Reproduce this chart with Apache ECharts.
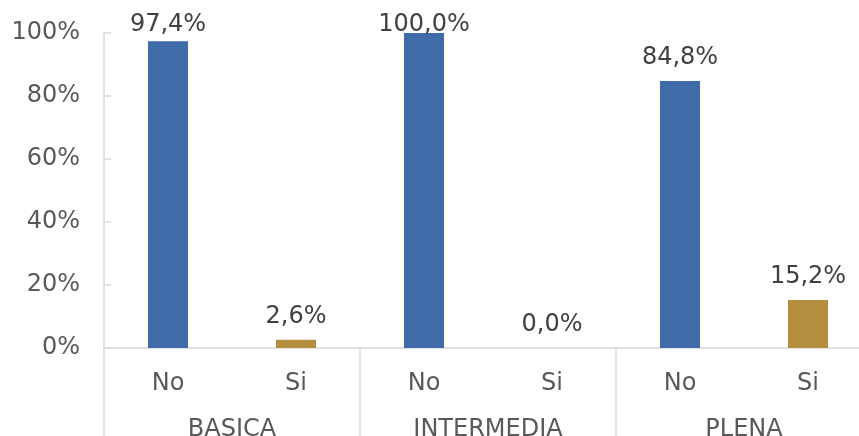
<!DOCTYPE html>
<html>
<head>
<meta charset="utf-8">
<script src="https://cdn.jsdelivr.net/npm/echarts@6/dist/echarts.min.js"></script>
<style>html,body{margin:0;padding:0;background:#fff;}#c{width:859px;height:436px;}</style>
</head>
<body>
<div id="c"></div>
<script>
var groups = ['BASICA', 'INTERMEDIA', 'PLENA'];
var subCats = ['No', 'Si'];
var noVals = [97.4, 100.0, 84.8];
var siVals = [2.6, 0.0, 15.2];
var yTicks = [0, 20, 40, 60, 80, 100];

var colors = { No: '#3F6BA8', Si: '#B58E40' };
var cats = [], vals = [];
for (var i = 0; i < groups.length; i++) {
  cats.push(subCats[0]); vals.push({ value: noVals[i], itemStyle: { color: colors.No } });
  cats.push(subCats[1]); vals.push({ value: siVals[i], itemStyle: { color: colors.Si } });
}
var font = 'DejaVu Sans, Verdana, sans-serif';
var fs = 24;
var chart = echarts.init(document.getElementById('c'));
var option = {
  animation: false,
  grid: { left: 104, top: 33, width: 768, height: 315, containLabel: false, outerBoundsMode: 'none' },
  xAxis: [
    {
      type: 'category', data: cats, position: 'bottom',
      axisLine: { show: true, lineStyle: { color: '#d9d9d9', width: 1.5 } },
      axisTick: { show: false },
      axisLabel: { color: '#595959', fontSize: fs, fontFamily: font, margin: 24, interval: 0 }
    },
    {
      type: 'category', data: groups, position: 'bottom',
      axisLine: { show: false },
      axisTick: { show: true, length: 100, lineStyle: { color: '#d9d9d9', width: 1.5 } },
      axisLabel: { color: '#595959', fontSize: fs, fontFamily: font, margin: 70, interval: 0 }
    }
  ],
  yAxis: {
    type: 'value', min: yTicks[0], max: yTicks[yTicks.length - 1], interval: 20,
    axisLine: { show: true, lineStyle: { color: '#d9d9d9', width: 1.5 } },
    axisTick: { show: true, inside: true, length: 7, lineStyle: { color: '#d9d9d9', width: 1.5 } },
    splitLine: { show: false },
    axisLabel: { color: '#595959', fontSize: fs, fontFamily: font, margin: 24, formatter: '{value}%' }
  },
  series: [{
    type: 'bar', xAxisIndex: 0, data: vals, barWidth: 40,
    label: {
      show: true, position: 'top', distance: 11, color: '#404040', fontSize: fs, fontFamily: font,
      formatter: function (p) { return p.value.toFixed(1).replace('.', ',') + '%'; }
    }
  }]
};
chart.setOption(option);
// keep labels inside the top of the chart area (like the original), pushing them down near the top
vals.forEach(function (d, idx) {
  var top = chart.convertToPixel({ xAxisIndex: 0, yAxisIndex: 0 }, [idx, d.value])[1];
  var dist = Math.min(11, top - 37);
  d.label = { distance: dist };
});
chart.setOption({ series: [{ data: vals }] });
</script>
</body>
</html>
